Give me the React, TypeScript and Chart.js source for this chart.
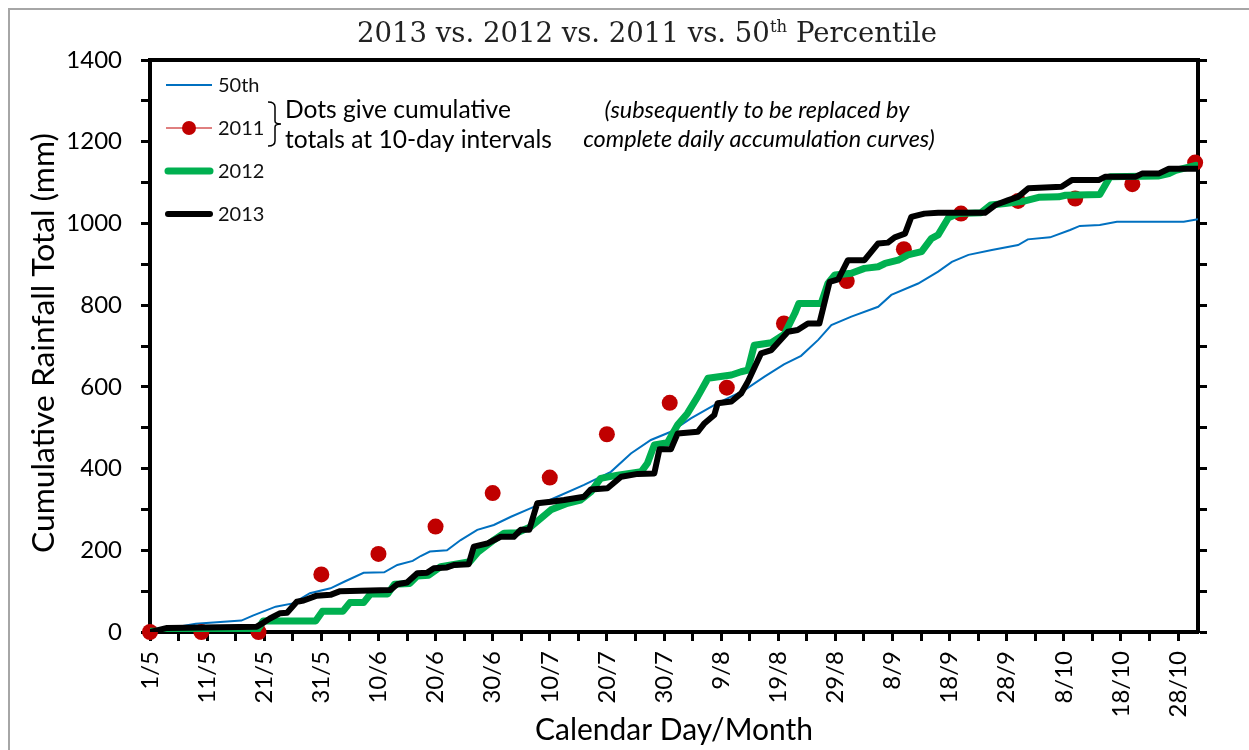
import React, { useEffect, useRef } from 'react';
import { Chart, registerables } from 'chart.js';

Chart.register(...registerables);

const W = 1249;
const H = 750;

// ---- axis ticks ----
const xMajorDays = [0, 10, 20, 30, 40, 50, 60, 70, 80, 90, 100, 110, 120, 130, 140, 150, 160, 170, 180];
const xMajorLabels = ['1/5', '11/5', '21/5', '31/5', '10/6', '20/6', '30/6', '10/7', '20/7', '30/7', '9/8', '19/8', '29/8', '8/9', '18/9', '28/9', '8/10', '18/10', '28/10'];
const xMinorDays = [5, 15, 25, 35, 45, 55, 65, 75, 85, 95, 105, 115, 125, 135, 145, 155, 165, 175];
const yTickValues = [0, 100, 200, 300, 400, 500, 600, 700, 800, 900, 1000, 1100, 1200, 1300, 1400];
const yLabelValues = [0, 200, 400, 600, 800, 1000, 1200, 1400];

// ---- series (day index from 1 May) ----
const pct50Days = [0, 3, 8, 16, 18, 22, 25, 28, 31.6, 34, 37.4, 41, 43.3, 46, 47.4, 49, 52, 54.4, 57.3, 60.2, 63.2, 66.7, 71.3, 76, 80.7, 84.2, 87.7, 91.2, 94.7, 99.4, 104.1, 107.6, 111, 114, 117, 119.3, 122.8, 127.5, 129.8, 134.5, 138, 140.4, 143.3, 147.4, 152, 153.7, 157.6, 161.1, 162.8, 166.3, 169.3, 181, 183.5];
const pct50Values = [0, 8, 20, 28, 40, 62, 70, 95, 107, 123, 145, 146, 164, 174, 186, 197, 200, 225, 250, 262, 282, 303, 331, 360, 392, 437, 470, 490, 523, 560, 592, 625, 655, 676, 715, 751, 772, 796, 825, 853, 882, 906, 923, 935, 947, 961, 966, 984, 994, 996, 1004, 1004, 1010];

const dots2011Days = [0, 9, 19, 30, 40, 50, 60, 70, 80, 91, 101, 111, 122, 132, 142, 152, 162, 172, 183];
const dots2011Values = [0, 0, 0, 141, 191, 258, 340, 378, 484, 561, 598, 755, 859, 937, 1024, 1055, 1061, 1096, 1149];

const y2012Days = [0, 18.7, 19.8, 29.0, 30.2, 33.8, 35, 37.4, 38.6, 41.6, 42.8, 45.5, 46.8, 48.8, 50.9, 53.5, 56, 57.4, 60.2, 62, 64.3, 66.7, 70.2, 73.1, 75.4, 77.2, 78.9, 81.9, 86, 87.1, 88.3, 90.6, 92.4, 94.1, 95.9, 97.7, 101.8, 103.5, 104.7, 105.8, 108.8, 111.1, 112.9, 113.6, 117.5, 118.7, 119.9, 122.8, 125.1, 127.5, 128.7, 131, 132.7, 135.1, 136.8, 138, 139.8, 141.5, 145.5, 147.2, 149.7, 153.2, 155.6, 159.1, 160.3, 166.3, 168.1, 176.5, 178.4, 179.6, 183.1];
const y2012Values = [2, 2, 27, 27, 51, 51, 72, 72, 93, 93, 117, 119, 137, 139, 160, 166, 172, 195, 225, 242, 243, 258, 299, 315, 323, 343, 376, 384, 392, 413, 458, 463, 507, 535, 576, 621, 629, 637, 641, 702, 708, 729, 780, 804, 804, 853, 874, 878, 890, 894, 902, 910, 923, 931, 963, 972, 1014, 1024, 1026, 1045, 1049, 1055, 1064, 1065, 1069, 1071, 1114, 1116, 1122, 1130, 1142];

const y2013Days = [0, 3, 18.7, 19.9, 21, 22.8, 24, 25.7, 26.9, 29.2, 31.6, 33.3, 42.1, 43.3, 45, 46.8, 48.5, 49.7, 52, 53.2, 55.8, 56.7, 59.1, 61.4, 63.7, 64.9, 66.4, 67.8, 70.2, 72.5, 76, 77.2, 80.1, 82.5, 85.4, 88.3, 89.2, 91.2, 92.4, 95.9, 97.1, 98.8, 99.4, 101.8, 103.5, 104.7, 107, 108.8, 111.7, 113.4, 115.2, 117.2, 119, 120.5, 122.2, 125.1, 127.5, 129.2, 130.4, 132.2, 133.3, 135.6, 138, 146.2, 148, 150.3, 152, 153.8, 159.6, 161.4, 166.1, 167.2, 172.5, 173.7, 176.6, 178.4, 183.4];
const y2013Values = [0, 10, 13, 23, 33, 46, 47, 74, 77, 89, 91, 100, 103, 117, 121, 144, 145, 156, 158, 164, 166, 209, 217, 233, 233, 250, 250, 315, 319, 323, 331, 349, 352, 380, 387, 388, 447, 447, 486, 490, 511, 531, 560, 564, 584, 613, 682, 690, 735, 739, 755, 755, 857, 863, 910, 910, 951, 953, 966, 975, 1016, 1024, 1026, 1026, 1045, 1057, 1065, 1086, 1090, 1106, 1106, 1114, 1114, 1122, 1122, 1134, 1134];

const seriesNames = ['50th', '2011', '2012', '2013'];
const titleMain = '2013 vs. 2012 vs. 2011 vs. 50';
const titleSup = 'th';
const titleEnd = ' Percentile';
const yTitle = 'Cumulative Rainfall Total (mm)';
const xTitle = 'Calendar Day/Month';
const noteLines = ['Dots give cumulative', 'totals at 10-day intervals'];
const italicLines = ['(subsequently to be replaced by', 'complete daily accumulation curves)'];

const BLUE = '#0070C0';
const RED = '#C00000';
const GREEN = '#00B050';
const BLACK = '#000000';

const toPts = (xs: number[], ys: number[]) => xs.map((x, i) => ({ x, y: ys[i] }));

function fitFont(ctx: CanvasRenderingContext2D, text: string, style: string, family: string, target: number) {
  ctx.font = `${style} 100px ${family}`;
  const w = ctx.measureText(text).width;
  const size = (100 * target) / w;
  ctx.font = `${style} ${size}px ${family}`;
  return size;
}

const decor = {
  id: 'decor',
  beforeDraw(chart: any) {
    const ctx: CanvasRenderingContext2D = chart.ctx;
    ctx.save();
    ctx.fillStyle = '#ffffff';
    ctx.fillRect(0, 0, W, H);
    ctx.strokeStyle = '#a6a6a6';
    ctx.lineWidth = 2;
    ctx.beginPath();
    ctx.moveTo(9, H);
    ctx.lineTo(9, 9);
    ctx.lineTo(W, 9);
    ctx.stroke();
    ctx.restore();
  },
  afterDraw(chart: any) {
    const ctx: CanvasRenderingContext2D = chart.ctx;
    const a = chart.chartArea;
    ctx.save();
    // top frame line
    ctx.strokeStyle = '#000';
    ctx.lineWidth = 4;
    ctx.beginPath();
    ctx.moveTo(a.left - 2, a.top);
    ctx.lineTo(a.right + 2, a.top);
    ctx.stroke();

    // title with superscript
    const serif = "'DejaVu Serif'";
    ctx.font = `100px ${serif}`;
    const wA = ctx.measureText(titleMain).width;
    const wC = ctx.measureText(titleEnd).width;
    ctx.font = `60px ${serif}`;
    const wB = ctx.measureText(titleSup).width;
    const s = (100 * 580) / (wA + wB + wC);
    const total = ((wA + wB + wC) * s) / 100;
    let tx = 647 - total / 2;
    const tBase = 42;
    ctx.fillStyle = '#222';
    ctx.textAlign = 'left';
    ctx.textBaseline = 'alphabetic';
    ctx.font = `${s}px ${serif}`;
    ctx.fillText(titleMain, tx, tBase);
    tx += (wA * s) / 100;
    ctx.font = `${s * 0.6}px ${serif}`;
    ctx.fillText(titleSup, tx, tBase - s * 0.38);
    tx += (wB * s) / 100;
    ctx.font = `${s}px ${serif}`;
    ctx.fillText(titleEnd, tx, tBase);

    // axis titles
    ctx.fillStyle = '#000';
    fitFont(ctx, xTitle, '', 'Lato', 278);
    ctx.textAlign = 'center';
    ctx.fillText(xTitle, (a.left + a.right) / 2, 740);

    ctx.save();
    ctx.translate(44, (a.top + a.bottom) / 2 - 3);
    ctx.rotate(-Math.PI / 2);
    fitFont(ctx, yTitle, '', 'Lato', 420);
    ctx.textAlign = 'center';
    ctx.textBaseline = 'middle';
    ctx.fillText(yTitle, 0, 0);
    ctx.restore();

    // legend
    const lx1 = a.left + 16;
    const lx2 = a.left + 62;
    const tx0 = a.left + 68;
    const rows = [a.top + 25, a.top + 68, a.top + 111, a.top + 154];
    ctx.lineCap = 'butt';
    ctx.strokeStyle = BLUE;
    ctx.lineWidth = 2;
    ctx.beginPath();
    ctx.moveTo(lx1, rows[0]);
    ctx.lineTo(lx2, rows[0]);
    ctx.stroke();
    ctx.strokeStyle = RED;
    ctx.lineWidth = 1;
    ctx.beginPath();
    ctx.moveTo(lx1, rows[1]);
    ctx.lineTo(lx2, rows[1]);
    ctx.stroke();
    ctx.fillStyle = RED;
    ctx.beginPath();
    ctx.arc((lx1 + lx2) / 2, rows[1], 7, 0, Math.PI * 2);
    ctx.fill();
    ctx.lineCap = 'round';
    ctx.strokeStyle = GREEN;
    ctx.lineWidth = 7;
    ctx.beginPath();
    ctx.moveTo(lx1 + 2, rows[2]);
    ctx.lineTo(lx2 - 2, rows[2]);
    ctx.stroke();
    ctx.strokeStyle = BLACK;
    ctx.lineWidth = 6;
    ctx.beginPath();
    ctx.moveTo(lx1 + 2, rows[3]);
    ctx.lineTo(lx2 - 2, rows[3]);
    ctx.stroke();
    ctx.fillStyle = '#111';
    ctx.font = '20px Lato';
    ctx.textAlign = 'left';
    ctx.textBaseline = 'middle';
    seriesNames.forEach((n, i) => ctx.fillText(n, tx0, rows[i] + 1));

    // bracket
    ctx.strokeStyle = '#000';
    ctx.lineWidth = 1.5;
    ctx.lineCap = 'butt';
    const bx = 268;
    const bTop = 102;
    const bMid = 124;
    const bBot = 146;
    ctx.beginPath();
    ctx.moveTo(bx, bTop);
    ctx.quadraticCurveTo(bx + 7, bTop, bx + 7, bTop + 5);
    ctx.lineTo(bx + 7, bMid - 3);
    ctx.quadraticCurveTo(bx + 7, bMid, bx + 13, bMid);
    ctx.quadraticCurveTo(bx + 7, bMid, bx + 7, bMid + 3);
    ctx.lineTo(bx + 7, bBot - 5);
    ctx.quadraticCurveTo(bx + 7, bBot, bx, bBot);
    ctx.stroke();

    // note text
    ctx.fillStyle = '#000';
    ctx.textBaseline = 'alphabetic';
    ctx.textAlign = 'left';
    const ns = fitFont(ctx, noteLines[1], '', 'Lato', 267);
    ctx.font = `${ns}px Lato`;
    ctx.fillText(noteLines[0], 285, 118);
    ctx.fillText(noteLines[1], 285, 148);

    const is = fitFont(ctx, italicLines[1], 'italic', 'Lato', 352);
    ctx.font = `italic ${is}px Lato`;
    ctx.textAlign = 'center';
    ctx.fillText(italicLines[0], 757, 118);
    ctx.fillText(italicLines[1], 759, 147);

    ctx.restore();
  },
};

export default function App() {
  const ref = useRef<HTMLCanvasElement | null>(null);
  useEffect(() => {
    if (!ref.current) return;
    const tickFont = { family: 'Lato', size: 24 };
    const chart = new Chart(ref.current, {
      type: 'line',
      data: {
        datasets: [
          {
            label: seriesNames[0],
            data: toPts(pct50Days, pct50Values),
            borderColor: BLUE,
            borderWidth: 2,
            pointRadius: 0,
            tension: 0,
            fill: false,
            order: 4,
            clip: 0,
          } as any,
          {
            label: seriesNames[1],
            data: toPts(dots2011Days, dots2011Values),
            showLine: false,
            pointRadius: 8,
            pointBackgroundColor: RED,
            pointBorderColor: RED,
            pointBorderWidth: 0,
            order: 3,
            clip: false,
          } as any,
          {
            label: seriesNames[2],
            data: toPts(y2012Days, y2012Values),
            borderColor: GREEN,
            borderWidth: 7,
            pointRadius: 0,
            tension: 0,
            borderJoinStyle: 'round',
            borderCapStyle: 'round',
            order: 2,
            clip: 0,
          } as any,
          {
            label: seriesNames[3],
            data: toPts(y2013Days, y2013Values),
            borderColor: BLACK,
            borderWidth: 6,
            pointRadius: 0,
            tension: 0,
            borderJoinStyle: 'round',
            borderCapStyle: 'round',
            order: 1,
            clip: 0,
          } as any,
        ],
      },
      options: {
        responsive: false,
        animation: false,
        devicePixelRatio: 1,
        layout: { padding: { top: 60, left: 0, right: 0, bottom: 0 } },
        plugins: {
          legend: { display: false },
          tooltip: { enabled: false },
          title: { display: false },
        },
        elements: { point: { hoverRadius: 0 } },
        scales: {
          x: {
            type: 'linear',
            position: 'bottom',
            min: 0,
            max: 183.5,
            afterBuildTicks: (s: any) => {
              s.ticks = [...xMajorDays, ...xMinorDays].sort((p, q) => p - q).map((v) => ({ value: v }));
            },
            afterFit: (s: any) => {
              s.height = H - 632;
            },
            ticks: {
              autoSkip: false,
              minRotation: 90,
              maxRotation: 90,
              padding: 10,
              color: '#000',
              font: tickFont,
              callback: (v: any) => {
                const i = xMajorDays.indexOf(Number(v));
                return i >= 0 ? xMajorLabels[i] : '';
              },
            },
            grid: { drawOnChartArea: false, drawTicks: true, tickLength: 9, tickWidth: 3, tickColor: '#000' },
            border: { display: true, color: '#000', width: 4 },
          },
          y: {
            type: 'linear',
            position: 'left',
            min: 0,
            max: 1400,
            afterBuildTicks: (s: any) => {
              s.ticks = yTickValues.map((v) => ({ value: v }));
            },
            afterFit: (s: any) => {
              s.width = 150;
            },
            ticks: {
              padding: 19,
              color: '#000',
              font: tickFont,
              callback: (v: any) => (yLabelValues.includes(Number(v)) ? String(v) : ''),
            },
            grid: { drawOnChartArea: false, drawTicks: true, tickLength: 9, tickWidth: 3, tickColor: '#000' },
            border: { display: true, color: '#000', width: 4 },
          },
          y2: {
            type: 'linear',
            position: 'right',
            min: 0,
            max: 1400,
            afterBuildTicks: (s: any) => {
              s.ticks = yTickValues.map((v) => ({ value: v }));
            },
            afterFit: (s: any) => {
              s.width = W - 1198;
            },
            ticks: { callback: () => '', font: tickFont },
            grid: { drawOnChartArea: false, drawTicks: true, tickLength: 9, tickWidth: 3, tickColor: '#000' },
            border: { display: true, color: '#000', width: 4 },
          },
        },
      } as any,
      plugins: [decor],
    });
    return () => chart.destroy();
  }, []);

  return (
    <div style={{ position: 'absolute', left: 0, top: 0, width: W, height: H, background: '#fff' }}>
      <canvas ref={ref} width={W} height={H} style={{ display: 'block', width: W, height: H }} />
    </div>
  );
}
